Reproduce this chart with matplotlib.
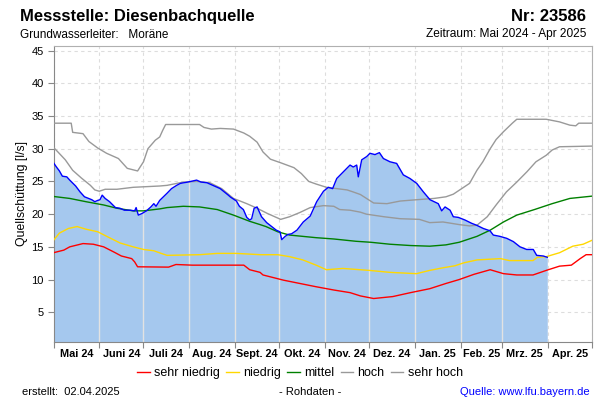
import numpy as np
import pandas as pd
import matplotlib
matplotlib.use('Agg')
import matplotlib.pyplot as plt

plt.rcParams['font.family'] = ['Liberation Sans', 'DejaVu Sans']

START = pd.Timestamp('2024-05-01')

# Rohdaten Quellschuettung (Tage seit 01.05.2024, l/s)
mess_tag = [0, 2, 4, 6, 9, 11, 15, 18, 21, 26, 28, 30, 31.5, 33, 35, 38, 42, 45, 48, 52,
            55, 56, 57.5, 60, 63, 66, 68, 69.5, 72, 74.5, 77, 80, 83.5, 86, 91, 97, 100, 104,
            108, 113, 118.5, 120, 124, 126, 128.7, 131, 133, 134.3, 136, 138, 141, 144.5,
            151, 153.5, 154.7, 157, 159, 161.4, 165, 169.3, 174, 178.4, 183, 186.3, 189.2,
            192, 195.3, 201, 203.2, 205.5, 206.6, 208.9, 212.3, 214.5, 217.9, 220.9, 223.6,
            228.1, 232.6, 237.1, 241.6, 246.2, 250.7, 255.2, 260.8, 263.1, 265.4, 268.8,
            271, 274.4, 278.9, 283.4, 286.8, 291.4, 295.9, 298.1, 302.6, 307.2, 311.7,
            316.2, 320.7, 325.2, 327.5, 332, 334.7]
mess_wert = [27.85, 27.2, 26.6, 25.8, 25.7, 25.2, 24.3, 23.4, 22.65, 22.2, 21.9, 22.1, 22.2,
             22.9, 22.4, 21.9, 21.0, 20.9, 20.6, 20.6, 20.5, 21.0, 19.85, 20.1, 20.5, 21.1,
             21.6, 21.2, 22.1, 22.65, 23.2, 23.9, 24.4, 24.7, 24.9, 25.2, 24.9, 24.8, 24.4,
             23.9, 22.9, 22.6, 22.0, 21.2, 20.7, 19.5, 19.1, 19.3, 20.9, 21.1, 19.6, 18.7,
             17.55, 17.3, 16.1, 16.6, 16.9, 17.0, 17.55, 18.8, 19.7, 21.9, 23.5, 24.1, 23.9,
             25.45, 26.2, 27.5, 27.2, 27.5, 25.7, 28.3, 28.8, 29.3, 29.1, 29.4, 28.5, 28.0,
             27.75, 26.0, 25.45, 24.7, 23.4, 22.2, 21.6, 20.5, 21.1, 20.6, 19.6, 19.5, 19.1,
             18.6, 18.3, 17.8, 17.45, 16.8, 16.6, 16.3, 15.8, 15.0, 14.6, 14.6, 13.7, 13.6, 13.4]

# Vergleichskurven
sehr_hoch_tag = [0, 12, 13, 20, 24, 30, 36, 44, 50, 57, 61, 64, 69, 72, 74, 76, 99, 102, 107,
                 113, 122, 129, 133, 138, 142, 147, 154, 163, 168, 173, 178, 185, 192, 199,
                 203, 208, 217, 226, 235, 246, 258, 266, 271, 276, 282, 287, 291, 296, 300,
                 305, 311, 314, 334, 343, 350, 354, 356, 365]
sehr_hoch_wert = [33.9, 33.9, 32.5, 32.3, 31.1, 30.1, 29.3, 28.5, 27.0, 26.6, 28.0, 30.0, 31.3,
                  31.8, 32.8, 33.7, 33.7, 33.25, 33.0, 33.1, 33.0, 32.4, 31.9, 31.0, 29.5,
                  28.4, 27.85, 27.1, 26.2, 25.0, 24.6, 24.1, 23.9, 23.7, 23.4, 23.0, 21.7,
                  21.6, 22.0, 22.2, 22.4, 22.65, 23.05, 23.8, 24.7, 26.7, 28.0, 30.0, 31.4,
                  32.6, 33.9, 34.5, 34.5, 34.1, 33.6, 33.5, 33.9, 33.9]

hoch_tag = [0, 3, 8, 13, 19, 25, 28, 31, 35, 43, 54, 63, 72, 77, 88, 97, 106, 114, 122, 131,
            135, 138, 145, 154, 160, 167, 174, 183, 190, 194, 201, 208, 212, 224, 235, 248,
            255, 264, 275, 282, 287, 294, 300, 307, 314, 321, 327, 334, 338, 343, 365]
hoch_wert = [30.2, 29.5, 28.3, 26.7, 25.5, 24.4, 23.7, 23.5, 23.8, 23.8, 24.1, 24.2, 24.3,
             24.4, 24.9, 25.0, 24.8, 23.9, 22.4, 21.6, 21.2, 20.9, 20.1, 19.2, 19.6, 20.25,
             21.0, 21.3, 21.2, 20.7, 20.6, 20.3, 20.0, 19.6, 19.3, 19.2, 18.7, 18.8, 18.4,
             18.2, 18.3, 19.6, 21.4, 23.4, 24.9, 26.5, 28.0, 29.0, 29.8, 30.3, 30.4]

mittel_tag = [0, 11, 22, 34, 43, 54, 61, 72, 77, 88, 99, 111, 122, 133, 140, 144, 152, 160,
              178, 190, 205, 215, 228, 242, 255, 266, 275, 287, 296, 305, 314, 326, 338,
              350, 365]
mittel_wert = [22.7, 22.4, 21.9, 21.4, 20.9, 20.5, 20.5, 20.8, 21.0, 21.2, 21.1, 20.7, 19.85,
               18.9, 18.4, 18.1, 17.3, 16.8, 16.4, 16.2, 15.85, 15.7, 15.4, 15.2, 15.1, 15.3,
               15.7, 16.6, 17.55, 18.8, 19.85, 20.7, 21.6, 22.4, 22.75]

niedrig_tag = [0, 4, 10, 16, 22, 30, 37, 45, 54, 61, 68, 73, 77, 99, 111, 124, 140, 152, 160,
               169, 178, 185, 196, 208, 214, 228, 246, 255, 264, 272, 278, 287, 303, 309,
               325, 328, 334, 343, 352, 359, 365]
niedrig_wert = [16.0, 17.1, 17.8, 18.1, 17.7, 17.3, 16.5, 15.6, 15.0, 14.6, 14.4, 14.0, 13.7,
                13.8, 14.0, 14.0, 13.8, 13.8, 13.5, 13.0, 12.2, 11.5, 11.7, 11.5, 11.4, 11.1,
                10.9, 11.4, 11.8, 12.1, 12.55, 13.0, 13.2, 12.9, 12.9, 13.4, 13.5, 14.1,
                15.1, 15.4, 16.0]

sehr_niedrig_tag = [0, 7, 11, 20, 27, 34, 41, 46, 53, 55, 57, 78, 83, 94, 129, 133, 140, 142,
                    156, 167, 178, 190, 201, 208, 217, 230, 242, 255, 266, 275, 285, 296,
                    305, 314, 325, 334, 343, 351, 357, 361, 365]
sehr_niedrig_wert = [14.1, 14.5, 15.0, 15.5, 15.4, 15.0, 14.2, 13.6, 13.2, 12.7, 11.95, 11.9,
                     12.3, 12.2, 12.2, 11.5, 11.1, 10.7, 9.9, 9.4, 8.9, 8.4, 8.0, 7.5, 7.1,
                     7.4, 8.0, 8.6, 9.4, 10.0, 10.8, 11.5, 10.9, 10.7, 10.7, 11.4, 12.05,
                     12.2, 13.2, 13.8, 13.8]

monate = ['Mai 24', 'Juni 24', 'Juli 24', 'Aug. 24', 'Sept. 24', 'Okt. 24', 'Nov. 24',
          'Dez. 24', 'Jan. 25', 'Feb. 25', 'Mrz. 25', 'Apr. 25']


def to_dates(tage):
    return START + pd.to_timedelta(np.array(tage, dtype=float), unit='D')


fig = plt.figure(figsize=(6, 4), dpi=100)
ax = fig.add_axes([53.5 / 600, 58.3 / 400, (592 - 53.5) / 600, (341.7 - 46) / 400])

month_starts = pd.date_range('2024-05-01', '2025-05-01', freq='MS')
mid_months = month_starts[:-1] + (month_starts[1:] - month_starts[:-1]) / 2

ax.set_axisbelow(True)
ax.grid(True, ls=(0, (3, 3)), color='#dddddd', lw=0.8)

mx = to_dates(mess_tag)
poly = ax.fill_between(mx, 0, mess_wert, color='#a5c8ee', lw=0, zorder=1)
for m in month_starts[1:-1]:
    ln = ax.axvline(m, color='#e2e2e2', lw=1, zorder=2)
    ln.set_clip_path(poly.get_paths()[0], poly.get_transform())

l_sn, = ax.plot(to_dates(sehr_niedrig_tag), sehr_niedrig_wert, color='#ff0000', lw=1, zorder=3)
l_n, = ax.plot(to_dates(niedrig_tag), niedrig_wert, color='#ffd800', lw=1, zorder=3)
l_m, = ax.plot(to_dates(mittel_tag), mittel_wert, color='#008000', lw=1, zorder=3)
l_h, = ax.plot(to_dates(hoch_tag), hoch_wert, color='#999999', lw=1, zorder=3)
l_sh, = ax.plot(to_dates(sehr_hoch_tag), sehr_hoch_wert, color='#999999', lw=1, zorder=3)
ax.plot(mx, mess_wert, color='#0000ff', lw=1, zorder=4)

ax.set_xlim(month_starts[0], month_starts[-1])
ax.set_ylim(0.5, 45.7)

ax.set_xticks(month_starts)
ax.set_xticklabels([])
ax.set_xticks(mid_months, minor=True)
ax.set_xticklabels(monate, minor=True, fontsize=7.8, fontweight='bold')
ax.tick_params(axis='x', which='major', length=4, color='#888888')
ax.tick_params(axis='x', which='minor', length=0, pad=5)
ax.set_yticks(range(5, 50, 5))
ax.tick_params(axis='y', length=4, color='#888888', labelsize=8, pad=3)

for s in ['left', 'bottom']:
    ax.spines[s].set_color('#888888')
for s in ['top', 'right']:
    ax.spines[s].set_color('#b0b0b0')

fig.text(21.7 / 600, 1 - 194 / 400, 'Quellschüttung [l/s]', rotation=90,
         ha='center', va='center', fontsize=8.8)

fig.text(20 / 600, 1 - 21 / 400, 'Messstelle: Diesenbachquelle', fontsize=12,
         fontweight='bold', va='baseline')
fig.text(586 / 600, 1 - 21 / 400, 'Nr: 23586', fontsize=12, fontweight='bold',
         ha='right', va='baseline')
fig.text(20 / 600, 1 - 37.5 / 400, 'Grundwasserleiter:   Moräne', fontsize=8.5, va='baseline')
fig.text(586 / 600, 1 - 37.5 / 400, 'Zeitraum: Mai 2024 - Apr 2025', fontsize=8.6,
         ha='right', va='baseline')

fig.legend([l_sn, l_n, l_m, l_h, l_sh], ['sehr niedrig', 'niedrig', 'mittel', 'hoch', 'sehr hoch'],
           loc='center', bbox_to_anchor=(0.5, 1 - 373 / 400), ncol=5, frameon=False,
           fontsize=9, handlelength=1.0, handletextpad=0.35, columnspacing=0.5)

fig.text(22 / 600, 1 - 395 / 400, 'erstellt:  02.04.2025', fontsize=8, va='baseline')
fig.text(310 / 600, 1 - 395 / 400, '- Rohdaten -', fontsize=8, ha='center', va='baseline')
fig.text(590 / 600, 1 - 395 / 400, 'Quelle: www.lfu.bayern.de', fontsize=8, ha='right',
         va='baseline', color='#0000ff')

fig.savefig('out.png', dpi=100)
